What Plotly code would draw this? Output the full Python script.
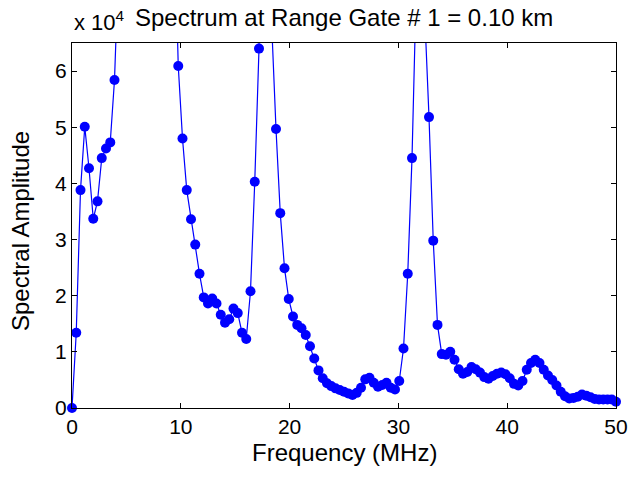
import numpy as np
import plotly.graph_objects as go

# Frequency bins (MHz): 129 samples from 0 to 50 MHz
freq_mhz = np.linspace(0, 50, 129)

# Spectral amplitude in units of 1e4 (values above 6.5 are off-scale in the reference)
amplitude_1e4 = [
    0.00, 1.34, 3.88, 5.01, 4.27, 3.37, 3.68, 4.45, 4.62, 4.73,
    5.84, 8.0, 10.5, 13.0, 15.5, 18.0, 20.0, 21.0, 20.0, 18.0,
    16.0, 14.0, 12.0, 10.5, 9.0, 6.09, 4.80, 3.88, 3.36, 2.91,
    2.39, 1.97, 1.86, 1.95, 1.86, 1.66, 1.52, 1.58, 1.77, 1.69,
    1.34, 1.23, 2.08, 4.03, 6.40, 16.0, 14.0, 6.8, 4.97, 3.47,
    2.49, 1.94, 1.63, 1.48, 1.42, 1.30, 1.10, 0.88, 0.67, 0.53,
    0.44, 0.39, 0.35, 0.32, 0.29, 0.26, 0.23, 0.27, 0.36, 0.51,
    0.54, 0.45, 0.38, 0.41, 0.45, 0.36, 0.33, 0.48, 1.06, 2.39,
    4.45, 7.5, 16.0, 7.0, 5.18, 2.98, 1.48, 0.96, 0.95, 1.00,
    0.86, 0.69, 0.61, 0.64, 0.73, 0.69, 0.63, 0.55, 0.52, 0.57,
    0.61, 0.63, 0.60, 0.53, 0.43, 0.40, 0.48, 0.68, 0.80, 0.86,
    0.80, 0.68, 0.58, 0.50, 0.40, 0.29, 0.21, 0.17, 0.18, 0.20,
    0.24, 0.22, 0.19, 0.16, 0.15, 0.15, 0.15, 0.15, 0.11,
]

x_ticks = [0, 10, 20, 30, 40, 50]
y_ticks = [0, 1, 2, 3, 4, 5, 6]
y_max = 6.5

title_text = "Spectrum at Range Gate # 1 = 0.10 km"
x_label = "Frequency (MHz)"
y_label = "Spectral Amplitude"
exponent_text = "x 10<sup>4</sup>"

FONT = "Liberation Sans, Arial, sans-serif"
BLUE = "#0000ff"

visible_markers = [v if v <= y_max else None for v in amplitude_1e4]

fig = go.Figure()
fig.add_trace(go.Scatter(
    x=freq_mhz, y=amplitude_1e4, mode="lines",
    line=dict(color=BLUE, width=1.2), hoverinfo="skip", showlegend=False,
))
fig.add_trace(go.Scatter(
    x=freq_mhz, y=visible_markers, mode="markers",
    marker=dict(color=BLUE, size=10, line=dict(width=0)),
    cliponaxis=False, showlegend=False,
))

axis_common = dict(
    showgrid=False, zeroline=False, showline=True, linecolor="black",
    linewidth=1, mirror="ticks", ticks="inside", ticklen=5,
    tickcolor="black", tickwidth=1, automargin=False,
    tickfont=dict(family=FONT, size=21, color="black"),
)

fig.update_layout(
    width=629, height=477,
    margin=dict(l=72, r=13, t=43, b=69, autoexpand=False),
    paper_bgcolor="white", plot_bgcolor="white",
    xaxis=dict(range=[0, 50], tickvals=x_ticks, ticktext=[str(t) for t in x_ticks], **axis_common),
    yaxis=dict(range=[0, y_max], tickvals=y_ticks, ticktext=[str(t) for t in y_ticks], **axis_common),
    annotations=[
        dict(text=title_text, xref="paper", yref="paper", x=0.5, y=1, yshift=10,
             xanchor="center", yanchor="bottom", showarrow=False,
             font=dict(family=FONT, size=24, color="black")),
        dict(text=exponent_text, xref="paper", yref="paper", x=0, y=1, yshift=6,
             xanchor="left", yanchor="bottom", showarrow=False,
             font=dict(family=FONT, size=22, color="black")),
        dict(text=x_label, xref="paper", yref="paper", x=0.5, y=0, yshift=-29,
             xanchor="center", yanchor="top", showarrow=False,
             font=dict(family=FONT, size=24, color="black")),
        dict(text=y_label, xref="paper", yref="paper", x=0, y=0.5, xshift=-36, yshift=-6,
             xanchor="right", yanchor="middle", textangle=-90, showarrow=False,
             font=dict(family=FONT, size=24, color="black")),
    ],
)

fig.write_html("out.html")
